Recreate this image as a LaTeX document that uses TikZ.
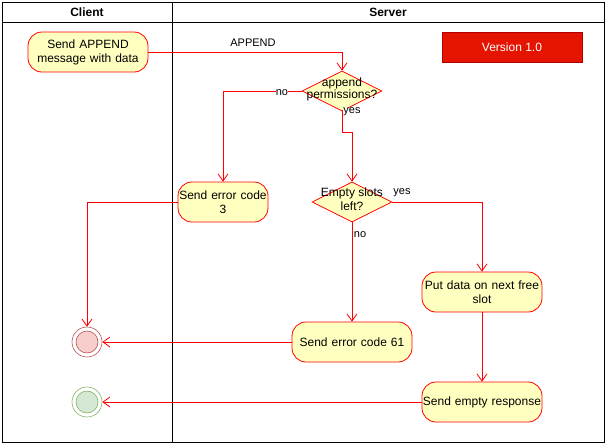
\documentclass[tikz,border=0pt]{standalone}
\usepackage{fontspec}
\setmainfont{Liberation Sans}
\usetikzlibrary{arrows.meta,shapes.geometric}
\definecolor{nfill}{HTML}{FFFFC0}
\definecolor{nred}{HTML}{FF0000}
\definecolor{vfill}{HTML}{E51400}
\definecolor{vline}{HTML}{B20000}
\definecolor{rfill}{HTML}{F8CECC}
\definecolor{rline}{HTML}{B85450}
\definecolor{gfill}{HTML}{D5E8D4}
\definecolor{gline}{HTML}{82B366}
\tikzset{
  x=1pt,y=-1pt,
  every node/.style={font=\fontsize{12}{14}\selectfont, inner sep=0pt},
  act/.style={draw=nred, fill=nfill, rounded corners=14pt, line width=0.8pt, minimum width=#1, minimum height=40pt, align=center, text width=#1},
  dec/.style={draw=nred, fill=nfill, diamond, aspect=2, line width=0.8pt, minimum width=80pt, minimum height=40pt, align=center},
  flow/.style={draw=nred, line width=0.8pt, -{Straight Barb[length=7pt,width=10pt]}},
  lbl/.style={font=\fontsize{11}{13}\selectfont},
  frame/.style={draw=black, line width=0.8pt},
}
\begin{document}
\begin{tikzpicture}
\useasboundingbox (0,0) rectangle (606,445);
% swimlanes
\draw[frame] (2,2) rectangle (604,442);
\draw[frame] (2,22) -- (604,22);
\draw[frame] (172,2) -- (172,442);
\node[font=\fontsize{12}{14}\selectfont\bfseries] (hc) at (87,12) {Client};
\node[font=\fontsize{12}{14}\selectfont\bfseries] (hs) at (388,12) {Server};
% nodes
\node[act=120pt] (send) at (88,52) {Send APPEND\\message with data};
\node[draw=vline, fill=vfill, minimum width=140pt, minimum height=30pt, text=white, line width=0.8pt] (ver) at (512,47) {Version 1.0};
\node[dec] (perm) at (342,91) {};
\node (permt) at (342,90) {\begin{tabular}{@{}c@{}}append\\[-2pt]permissions?\end{tabular}};
\node[act=90pt] (err3) at (223,202) {Send error code\\3};
\node[dec] (slots) at (352,202) {};
\node (slotst) at (352,201) {\begin{tabular}{@{}c@{}}Empty slots\\left?\end{tabular}};
\node[act=120pt] (put) at (482,292) {Put data on next free\\slot};
\node[act=120pt] (err61) at (352,342) {Send error code 61};
\node[act=120pt] (empty) at (482,402) {Send empty response};
% end states
\node[circle, draw=rline, fill=white, minimum size=30pt, line width=0.6pt] (endr) at (87,342) {};
\node[circle, draw=rline, fill=rfill, minimum size=22pt, line width=0.6pt] (endri) at (87,342) {};
\node[circle, draw=gline, fill=white, minimum size=30pt, line width=0.6pt] (endg) at (87,402) {};
\node[circle, draw=gline, fill=gfill, minimum size=22pt, line width=0.6pt] (endgi) at (87,402) {};
% edges
\draw[flow] (send.east) -| (perm.north);
\node[lbl] (lappend) at (253,43) {APPEND};
\draw[flow] (perm.west) -| (err3.north);
\node[lbl, fill=white] (lno1) at (282,93) {no};
\draw[flow] (perm.south) -- (342,132) -| (slots.north);
\node[lbl, fill=white] (lyes1) at (352,112) {yes};
\draw[flow] (slots.east) -| (put.north);
\node[lbl] (lyes2) at (402,193) {yes};
\draw[flow] (slots.south) -- (err61.north);
\node[lbl] (lno2) at (360,235) {no};
\draw[flow] (err3.west) -| (endr.north);
\draw[flow] (put.south) -- (empty.north);
\draw[flow] (err61.west) -- (endr.east);
\draw[flow] (empty.west) -- (endg.east);
\end{tikzpicture}
\end{document}
